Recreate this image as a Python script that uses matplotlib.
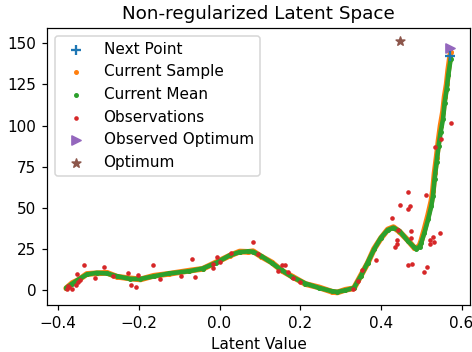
import matplotlib
matplotlib.use("Agg")
import matplotlib.pyplot as plt
from matplotlib.ticker import MultipleLocator

# Current mean curve
x_curve = [-0.380, -0.365, -0.350, -0.329, -0.304, -0.279, -0.254, -0.221, -0.196, -0.163,
           -0.125, -0.075, -0.042, -0.008, 0.025, 0.050, 0.071, 0.083, 0.104, 0.129,
           0.154, 0.179, 0.213, 0.246, 0.279, 0.292, 0.312, 0.333, 0.350, 0.367,
           0.383, 0.400, 0.417, 0.431, 0.446, 0.467, 0.483, 0.488, 0.496, 0.500,
           0.508, 0.517, 0.525, 0.529, 0.533, 0.538, 0.543, 0.548, 0.554, 0.558,
           0.563, 0.567, 0.573]
mean_vals = [1.5, 4.0, 6.5, 9.6, 10.6, 10.2, 8.5, 6.9, 6.9, 8.5,
             10.2, 11.6, 13.2, 16.7, 21.2, 23.2, 23.6, 23.4, 20.7, 16.7,
             12.2, 8.2, 4.1, 1.5, -0.6, -1.0, 0.0, 1.4, 8.5, 16.7,
             24.8, 31.9, 36.6, 38.0, 36.0, 29.9, 26.0, 25.2, 26.5, 28.9,
             35.0, 43.1, 51.2, 57.3, 67.5, 77.7, 87.8, 96.0, 104.0, 114.0,
             122.0, 130.5, 140.7]
sample_vals = [1.2, 4.4, 6.2, 9.9, 10.3, 10.6, 8.2, 7.2, 6.6, 8.8,
               10.0, 11.9, 13.0, 17.0, 21.0, 23.5, 23.3, 23.7, 20.4, 17.0,
               12.0, 8.5, 3.8, 1.8, -0.9, -1.3, 0.3, 1.2, 8.8, 16.4,
               25.1, 31.6, 36.9, 38.3, 35.6, 30.3, 25.7, 25.5, 27.2, 30.0,
               37.0, 45.5, 54.0, 60.5, 71.0, 80.5, 91.0, 100.0, 108.5, 117.5,
               125.0, 134.0, 144.5]

# Observations
obs_x = [-0.378, -0.376, -0.372, -0.365, -0.357, -0.352, -0.354, -0.346, -0.335, -0.308,
         -0.2875, -0.264, -0.2275, -0.219, -0.208, -0.2025, -0.165, -0.1475, -0.095, -0.0675,
         -0.062, -0.017, -0.015, -0.006, 0.000, 0.029, 0.082, 0.096, 0.146, 0.154,
         0.1625, 0.169, 0.183, 0.200, 0.332, 0.342, 0.354, 0.389, 0.427, 0.435,
         0.440, 0.440, 0.442, 0.448, 0.466, 0.466, 0.471, 0.474, 0.474, 0.466,
         0.477, 0.507, 0.515, 0.5125, 0.521, 0.521, 0.529, 0.532, 0.546, 0.533,
         0.548, 0.573]
obs_y = [1.0, 2.5, 1.8, 0.6, 2.9, 4.9, 9.6, 6.0, 15.1, 7.5,
         14.0, 8.5, 10.4, 3.5, 2.1, 9.0, 15.1, 7.1, 8.5, 18.9,
         8.2, 16.1, 13.4, 20.1, 17.1, 22.8, 29.5, 22.2, 12.0, 15.1,
         15.1, 11.0, 7.5, 4.9, 0.9, 5.5, 12.2, 18.3, 43.7, 26.2,
         27.9, 30.5, 36.4, 51.8, 59.4, 49.2, 51.2, 36.0, 31.9, 15.2,
         16.1, 11.0, 14.3, 57.9, 30.5, 27.9, 32.5, 29.3, 34.6, 87.2,
         91.9, 101.6]

next_x, next_y = [0.5725], [142.0]
obsopt_x, obsopt_y = [0.5725], [147.2]
opt_x, opt_y = [0.448], [151.6]

DPI = 110
fig = plt.figure(figsize=(472 / DPI, 352 / DPI), dpi=DPI)
ax = fig.add_axes([0.0996, 0.1335, 0.896, 0.787])

ax.plot(x_curve, sample_vals, color="C1", lw=3.8, solid_capstyle="round", zorder=1)
ax.plot(x_curve, mean_vals, color="C2", lw=3.0, solid_capstyle="round", zorder=2)

ax.scatter(next_x, next_y, marker="+", color="C0", label="Next Point", zorder=5)
ax.scatter(x_curve, sample_vals, marker=".", s=20, color="C1", label="Current Sample", zorder=1.5)
ax.scatter(x_curve, mean_vals, marker=".", s=20, color="C2", label="Current Mean", zorder=2.5)
ax.scatter(obs_x, obs_y, marker=".", s=16, color="C3", label="Observations", zorder=3)
ax.scatter(obsopt_x, obsopt_y, marker=">", color="C4", label="Observed Optimum", zorder=4)
ax.scatter(opt_x, opt_y, marker="*", color="C5", label="Optimum", zorder=4)

ax.yaxis.set_major_locator(MultipleLocator(25))
ax.set_title("Non-regularized Latent Space")
ax.set_xlabel("Latent Value")
ax.legend(loc="upper left")

fig.savefig("out.png", dpi=DPI)
